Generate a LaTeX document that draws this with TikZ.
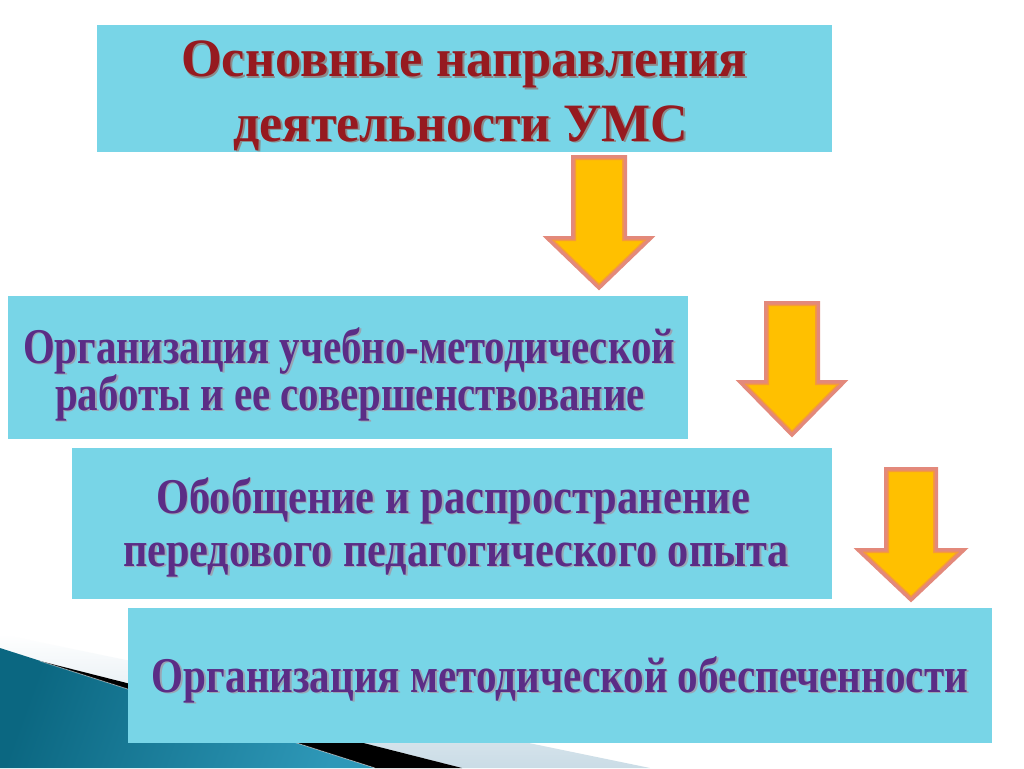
\documentclass[tikz,border=0pt]{standalone}
\usepackage{fontspec}
\setmainfont{Liberation Serif}
\usepackage{graphicx}
\definecolor{boxcyan}{HTML}{78D5E7}
\definecolor{titlered}{HTML}{961A20}
\definecolor{txtpurple}{HTML}{5B2D86}
\definecolor{titleshadow}{HTML}{8C8C8C}
\definecolor{txtshadow}{HTML}{9AA6B4}
\definecolor{arrowfill}{HTML}{FFC000}
\definecolor{arrowline}{HTML}{E3897B}
\definecolor{arrowinner}{HTML}{F59A3A}
\definecolor{tealdark}{HTML}{0B6781}
\definecolor{teallight}{HTML}{2E98B8}
\definecolor{sheen}{HTML}{CADCE6}
\newsavebox\linebox
\newsavebox\shadebox
\newcommand\shtext[5]{% width, size, colour, shadow colour, text
  \sbox\linebox{\fontsize{#2}{#2}\selectfont\bfseries\color{#3}#5}%
  \sbox\shadebox{\fontsize{#2}{#2}\selectfont\bfseries\color{#4}#5}%
  \pgfmathsetmacro\myxscale{#1/\wd\linebox}%
  \makebox[0pt][l]{\hspace{1.8pt}\raisebox{-1.8pt}{\scalebox{\myxscale}[1]{\usebox\shadebox}}}%
  \scalebox{\myxscale}[1]{\usebox\linebox}}
\newcommand\downarrowpath[6]{% cx, top, heady, tip, shaft half, head half
  (#1-#5,#2) -- (#1+#5,#2) -- (#1+#5,#3) -- (#1+#6,#3) -- (#1,#4) -- (#1-#6,#3) -- (#1-#5,#3) -- cycle}
\newcommand\bigarrow[6]{%
  \begin{scope}
    \clip \downarrowpath{#1}{#2}{#3}{#4}{#5}{#6};
    \fill[arrowfill] \downarrowpath{#1}{#2}{#3}{#4}{#5}{#6};
    \draw[arrowinner, line width=8pt, line join=miter] \downarrowpath{#1}{#2}{#3}{#4}{#5}{#6};
    \draw[arrowline, line width=5pt, line join=miter] \downarrowpath{#1}{#2}{#3}{#4}{#5}{#6};
  \end{scope}
  \draw[arrowline, line width=2pt, line join=miter] \downarrowpath{#1}{#2}{#3}{#4}{#5}{#6};}
\begin{document}
\begin{tikzpicture}[x=1pt, y=-1pt,
  panel/.style={fill=boxcyan, draw=none},
  txt/.style={anchor=base, inner sep=0pt, outer sep=0pt}]
\useasboundingbox (0,0) rectangle (1024,768);
\fill[white] (0,0) rectangle (1024,768);
% decorative swoosh
\shade[top color=white, bottom color=sheen] (0,634) -- (650,768) -- (462,768) -- (40,661) -- (0,648) -- cycle;
\shade[left color=tealdark, right color=teallight, shading angle=70] (0,648) -- (375,768) -- (0,768) -- cycle;
\fill[black] (40,661) -- (462,768) -- (375,768) -- cycle;
\draw[white, opacity=0.5, line width=0.8pt] (40,661) -- (375,768);
% panels
\fill[panel] (97,25) rectangle (832,152);
\fill[panel] (8,296) rectangle (688,439);
\fill[panel] (72,448) rectangle (832,599);
\fill[panel] (128,608) rectangle (992,743);
% title
\node[txt] (t1a) at (464,77) {\shtext{566}{54}{titlered}{titleshadow}{Основные направления}};
\node[txt] (t1b) at (461,141) {\shtext{455}{54}{titlered}{titleshadow}{деятельности УМС}};
% box 2
\node[txt] (t2a) at (349,363) {\shtext{652}{50}{txtpurple}{txtshadow}{Организация учебно-методической}};
\node[txt] (t2b) at (350,410) {\shtext{590}{50}{txtpurple}{txtshadow}{работы и ее совершенствование}};
% box 3
\node[txt] (t3a) at (453,513) {\shtext{594}{50}{txtpurple}{txtshadow}{Обобщение и распространение}};
\node[txt] (t3b) at (456,566) {\shtext{666}{50}{txtpurple}{txtshadow}{передового педагогического опыта}};
% box 4
\node[txt] (t4a) at (560,692) {\shtext{816}{50}{txtpurple}{txtshadow}{Организация методической обеспеченности}};
% arrows
\bigarrow{599}{156}{237}{289}{27}{54}
\bigarrow{792}{302}{381}{436}{27}{54}
\bigarrow{911}{468}{549}{601}{26}{55}
\end{tikzpicture}
\end{document}
